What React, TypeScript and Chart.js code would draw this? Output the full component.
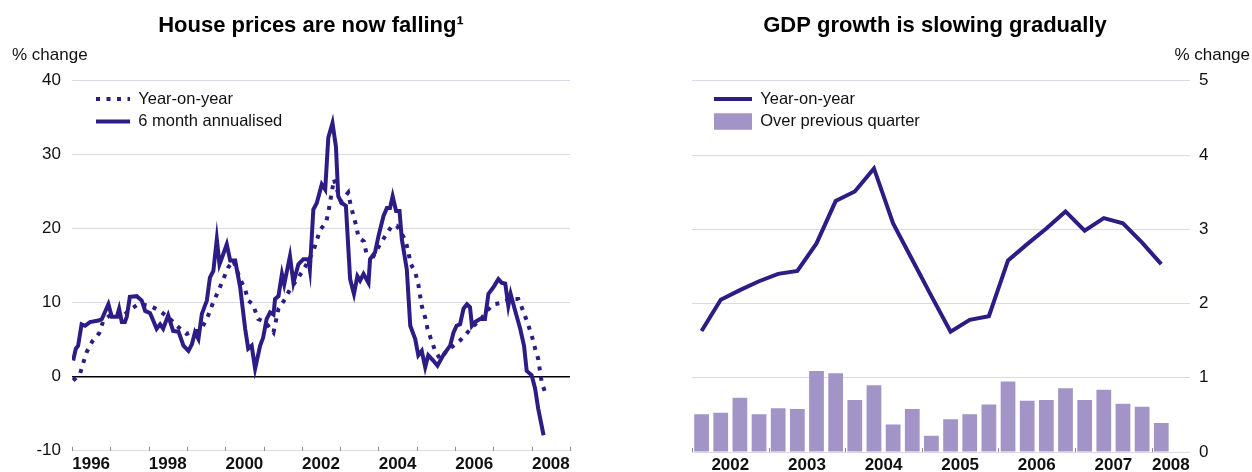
import React, { useEffect, useRef } from 'react';
import { Chart, registerables } from 'chart.js';

Chart.register(...registerables);

const FONT = "'Liberation Sans', Arial, Helvetica, sans-serif";
Chart.defaults.font.family = FONT;

const NAVY = '#2d1c86';
const BAR = '#a294c7';
const GRID = '#dcd8ee';
const TEXT = '#111111';

// ---------- House prices (left) ----------
const hpTickYears = [1996, 1998, 2000, 2002, 2004, 2006, 2008];

const hpYoYDates = [
  1996.03, 1996.21, 1996.30, 1996.38, 1996.53, 1996.71, 1996.82, 1997.04, 1997.30, 1997.47,
  1997.73, 1998.04, 1998.30, 1998.56, 1998.78, 1998.99, 1999.17, 1999.34, 1999.52, 1999.65,
  1999.82, 1999.95, 2000.08, 2000.21, 2000.39, 2000.52, 2000.60, 2000.72, 2000.86, 2001.04,
  2001.26, 2001.39, 2001.56, 2001.69, 2001.91, 2002.08, 2002.30, 2002.48, 2002.63, 2002.69,
  2002.74, 2002.84, 2002.89, 2003.02, 2003.13, 2003.21, 2003.27, 2003.34, 2003.42, 2003.48,
  2003.62, 2003.68, 2003.87, 2004.04, 2004.20, 2004.35, 2004.48, 2004.69, 2004.78, 2004.83,
  2004.96, 2005.04, 2005.13, 2005.22, 2005.28, 2005.37, 2005.48, 2005.61, 2005.78, 2005.96,
  2006.09, 2006.26, 2006.44, 2006.65, 2006.83, 2007.00, 2007.22, 2007.44, 2007.65, 2007.74,
  2007.87, 2008.00, 2008.09, 2008.17, 2008.26, 2008.35,
];
const hpYoY = [
  -0.5, 0.4, 2.0, 3.3, 4.8, 5.9, 7.6, 8.5, 8.0, 8.9,
  9.8, 9.6, 8.9, 7.8, 6.7, 5.8, 6.2, 6.2, 7.8, 9.6,
  11.6, 13.2, 14.8, 15.7, 13.2, 11.8, 10.3, 9.8, 7.8, 7.4,
  6.0, 9.2, 10.5, 11.8, 13.4, 14.8, 17.0, 19.9, 20.8, 22.2,
  23.7, 26.7, 25.7, 23.7, 24.4, 24.9, 23.3, 21.9, 20.4, 18.8,
  18.3, 16.8, 16.3, 17.9, 19.2, 20.4, 20.4, 18.6, 17.0, 15.4,
  14.1, 12.5, 9.6, 8.0, 6.5, 5.1, 3.5, 2.4, 3.5, 4.2,
  4.7, 5.6, 6.7, 7.6, 8.9, 9.8, 10.0, 10.5, 10.5, 9.4,
  7.6, 5.6, 3.8, 2.4, -0.7, -2.1,
];

const hp6mDates = [
  1996.03, 1996.10, 1996.16, 1996.25, 1996.34, 1996.47, 1996.69, 1996.78, 1996.95, 1997.04,
  1997.17, 1997.23, 1997.30, 1997.38, 1997.43, 1997.51, 1997.69, 1997.82, 1997.91, 1998.04,
  1998.21, 1998.30, 1998.38, 1998.51, 1998.64, 1998.78, 1998.91, 1999.04, 1999.13, 1999.21,
  1999.30, 1999.39, 1999.52, 1999.60, 1999.69, 1999.78, 1999.85, 1999.95, 2000.04, 2000.13,
  2000.26, 2000.39, 2000.52, 2000.60, 2000.69, 2000.78, 2000.91, 2000.99, 2001.08, 2001.17,
  2001.26, 2001.30, 2001.39, 2001.48, 2001.54, 2001.69, 2001.78, 2001.91, 2002.04, 2002.17,
  2002.21, 2002.30, 2002.39, 2002.52, 2002.61, 2002.69, 2002.80, 2002.89, 2002.95, 2003.04,
  2003.15, 2003.26, 2003.36, 2003.45, 2003.52, 2003.61, 2003.74, 2003.78, 2003.91, 2004.00,
  2004.13, 2004.22, 2004.30, 2004.37, 2004.46, 2004.55, 2004.61, 2004.74, 2004.83, 2004.96,
  2005.04, 2005.13, 2005.22, 2005.30, 2005.43, 2005.54, 2005.69, 2005.87, 2005.96, 2006.04,
  2006.13, 2006.22, 2006.31, 2006.39, 2006.44, 2006.52, 2006.65, 2006.78, 2006.87, 2007.00,
  2007.13, 2007.22, 2007.31, 2007.39, 2007.45, 2007.57, 2007.70, 2007.80, 2007.87, 2008.00,
  2008.09, 2008.17, 2008.31,
];
const hp6m = [
  2.2, 3.8, 4.2, 7.1, 6.9, 7.4, 7.6, 7.8, 9.8, 8.1,
  8.1, 9.2, 7.4, 7.4, 8.1, 10.8, 10.9, 10.3, 8.9, 8.6,
  6.5, 7.1, 6.5, 8.3, 6.2, 6.1, 4.2, 3.5, 4.4, 6.0,
  5.1, 8.5, 10.3, 13.4, 14.3, 18.6, 15.2, 16.6, 17.9, 15.7,
  15.7, 12.1, 6.5, 3.8, 4.2, 1.1, 4.2, 5.3, 7.8, 8.7,
  8.4, 10.5, 10.9, 13.9, 12.5, 16.3, 12.7, 15.2, 15.9, 15.9,
  14.5, 22.6, 23.5, 26.0, 25.3, 32.3, 34.3, 31.1, 24.4, 23.5,
  23.1, 13.2, 11.2, 13.6, 13.0, 13.9, 12.7, 15.9, 16.8, 19.0,
  21.7, 22.8, 22.8, 24.4, 22.4, 22.4, 18.6, 14.5, 6.9, 5.1,
  2.9, 3.5, 1.3, 2.9, 2.2, 1.5, 2.9, 4.2, 6.0, 6.9,
  7.1, 9.2, 9.8, 9.4, 6.9, 7.4, 7.8, 7.8, 11.2, 12.1,
  13.2, 12.7, 12.6, 9.6, 11.2, 8.9, 6.5, 4.2, 0.8, 0.2,
  -1.6, -4.3, -7.9,
];

// ---------- GDP (right) ----------
const gdpTickYears = [2002, 2003, 2004, 2005, 2006, 2007, 2008];
const gdpQuarters = [
  '2002 Q1', '2002 Q2', '2002 Q3', '2002 Q4',
  '2003 Q1', '2003 Q2', '2003 Q3', '2003 Q4',
  '2004 Q1', '2004 Q2', '2004 Q3', '2004 Q4',
  '2005 Q1', '2005 Q2', '2005 Q3', '2005 Q4',
  '2006 Q1', '2006 Q2', '2006 Q3', '2006 Q4',
  '2007 Q1', '2007 Q2', '2007 Q3', '2007 Q4',
  '2008 Q1',
];
const gdpYoY = [
  1.63, 2.05, 2.18, 2.30, 2.40, 2.44, 2.81, 3.38, 3.51, 3.82,
  3.08, 2.59, 2.10, 1.62, 1.78, 1.83, 2.58, 2.80, 3.01, 3.24,
  2.98, 3.15, 3.08, 2.82, 2.53,
];
const gdpQoQ = [
  0.51, 0.53, 0.73, 0.51, 0.59, 0.58, 1.09, 1.06, 0.70, 0.90,
  0.37, 0.58, 0.22, 0.44, 0.51, 0.64, 0.95, 0.69, 0.70, 0.86,
  0.70, 0.84, 0.65, 0.61, 0.39,
];

const quarterPos = (q: string) => {
  const [y, qq] = q.split(' Q');
  return Number(y) + (Number(qq) - 0.5) / 4;
};

// ---------- plugins ----------
const yearTicksPlugin = {
  id: 'yearTicks',
  afterDatasetsDraw(chart: any) {
    const x = chart.scales.x;
    const { bottom } = chart.chartArea;
    const ctx = chart.ctx;
    ctx.save();
    ctx.strokeStyle = '#8c8c8c';
    ctx.lineWidth = 1;
    for (let yr = Math.ceil(x.min); yr <= Math.floor(x.max); yr++) {
      const px = Math.round(x.getPixelForValue(yr)) + 0.5;
      ctx.beginPath();
      ctx.moveTo(px, bottom);
      ctx.lineTo(px, bottom - 4);
      ctx.stroke();
    }
    ctx.restore();
  },
};

const legendShift = {
  id: 'legendShift',
  afterLayout(chart: any, _args: any, opts: any) {
    const lg = chart.legend;
    const ca = chart.chartArea;
    if (!lg || !ca) return;
    lg.left = ca.left + (opts.dx || 0);
    lg.top = ca.top + (opts.dy || 0);
    lg.right = ca.right;
    lg.bottom = ca.bottom;
  },
};

const makeLabels = (chart: any) => {
  const items = (Chart.defaults.plugins.legend.labels as any).generateLabels(chart);
  return items.map((it: any) => {
    const ds = chart.data.datasets[it.datasetIndex];
    const isBar = ds.type === 'bar';
    return {
      ...it,
      pointStyle: isBar ? 'rect' : 'line',
      lineDash: isBar ? [] : ds.borderDash || [],
      lineCap: 'butt',
      lineWidth: isBar ? 0 : ds.borderWidth,
      textAlign: 'left',
    };
  });
};

const titleOpts = (text: string) => ({
  display: true,
  text,
  color: '#000',
  font: { family: FONT, size: 22, weight: 'bold' as const },
  padding: { top: 13, bottom: 4 },
});

const subtitleOpts = (align: 'start' | 'end') => ({
  display: true,
  text: '% change',
  align,
  color: TEXT,
  font: { family: FONT, size: 17 },
  padding: { top: 2, bottom: 15 },
});

const legendOpts = (width: number) => ({
  display: true,
  position: 'chartArea' as any,
  align: 'start' as const,
  labels: {
    usePointStyle: true,
    pointStyleWidth: width,
    boxHeight: 17,
    padding: 6,
    color: TEXT,
    textAlign: 'left' as const,
    font: { family: FONT, size: 16.5 },
    generateLabels: makeLabels,
  },
});

const xTickFont = { family: FONT, size: 17, weight: 'bold' as const };
const yTickFont = { family: FONT, size: 17 };

const hiddenAxis = (position: 'left' | 'right', width: number) => ({
  type: 'linear' as const,
  axis: 'y' as const,
  position,
  display: true,
  grid: { display: false, drawTicks: false },
  border: { display: false },
  ticks: { display: false },
  afterFit: (s: any) => {
    s.width = width;
  },
});

function makeHousePrices(canvas: HTMLCanvasElement) {
  return new Chart(canvas, {
    type: 'line',
    data: {
      datasets: [
        {
          label: 'Year-on-year',
          data: hpYoYDates.map((d, i) => ({ x: d, y: hpYoY[i] })),
          borderColor: NAVY,
          backgroundColor: NAVY,
          borderWidth: 4,
          borderDash: [4, 6.5],
          borderCapStyle: 'butt',
          pointRadius: 0,
          pointHoverRadius: 0,
          pointStyle: 'line',
          tension: 0,
          yAxisID: 'y',
        },
        {
          label: '6 month annualised',
          data: hp6mDates.map((d, i) => ({ x: d, y: hp6m[i] })),
          borderColor: NAVY,
          backgroundColor: NAVY,
          borderWidth: 4,
          pointRadius: 0,
          pointHoverRadius: 0,
          pointStyle: 'line',
          tension: 0,
          yAxisID: 'y',
        },
      ],
    },
    options: {
      animation: false,
      responsive: false,
      events: [],
      layout: { padding: { left: 12, right: 0, top: 0, bottom: 0 } },
      plugins: {
        title: titleOpts('House prices are now falling¹'),
        subtitle: subtitleOpts('start'),
        legend: legendOpts(34),
        tooltip: { enabled: false },
        legendShift: { dx: 18, dy: 4 },
      } as any,
      scales: {
        x: {
          type: 'linear',
          min: 1996,
          max: 2009,
          grid: { display: false, drawTicks: false },
          border: { display: false },
          afterBuildTicks: (s: any) => {
            s.ticks = hpTickYears.map((y) => ({ value: y + 0.5 }));
          },
          ticks: {
            autoSkip: false,
            maxRotation: 0,
            padding: 3,
            color: TEXT,
            font: xTickFont,
            callback: (v: any) => String(Math.floor(Number(v))),
          },
          afterFit: (s: any) => {
            s.height = 20;
          },
        },
        y: {
          type: 'linear',
          position: 'left',
          min: -10,
          max: 40,
          ticks: { stepSize: 10, padding: 11, color: TEXT, font: yTickFont },
          grid: {
            drawTicks: false,
            color: (c: any) => (c.tick && c.tick.value === 0 ? '#000000' : GRID),
            lineWidth: (c: any) => (c.tick && c.tick.value === 0 ? 1.5 : 1),
          },
          border: { display: false },
          afterFit: (s: any) => {
            s.width = 60;
          },
        },
        yR: hiddenAxis('right', 40),
      } as any,
    },
    plugins: [yearTicksPlugin, legendShift],
  });
}

function makeGdp(canvas: HTMLCanvasElement) {
  const pos = gdpQuarters.map(quarterPos);
  return new Chart(canvas, {
    type: 'bar',
    data: {
      datasets: [
        {
          type: 'line',
          label: 'Year-on-year',
          data: pos.map((p, i) => ({ x: p, y: gdpYoY[i] })),
          borderColor: NAVY,
          backgroundColor: NAVY,
          borderWidth: 4,
          pointRadius: 0,
          pointHoverRadius: 0,
          pointStyle: 'line',
          tension: 0,
          yAxisID: 'y',
          order: 0,
        },
        {
          type: 'bar',
          label: 'Over previous quarter',
          data: pos.map((p, i) => ({ x: p, y: gdpQoQ[i] })),
          backgroundColor: BAR,
          borderColor: BAR,
          borderWidth: 0,
          barPercentage: 0.77,
          categoryPercentage: 1,
          yAxisID: 'y',
          order: 1,
        },
      ] as any,
    },
    options: {
      animation: false,
      responsive: false,
      events: [],
      layout: { padding: 0 },
      plugins: {
        title: titleOpts('GDP growth is slowing gradually'),
        subtitle: subtitleOpts('end'),
        legend: legendOpts(38),
        tooltip: { enabled: false },
        legendShift: { dx: 16, dy: 4 },
      } as any,
      scales: {
        x: {
          type: 'linear',
          min: 2002,
          max: 2008.5,
          offset: false,
          grid: { display: false, drawTicks: false },
          border: { display: false },
          afterBuildTicks: (s: any) => {
            s.ticks = gdpTickYears.map((y) => ({ value: (y + Math.min(y + 1, s.max)) / 2 }));
          },
          ticks: {
            autoSkip: false,
            maxRotation: 0,
            padding: 3,
            color: TEXT,
            font: xTickFont,
            callback: (v: any) => String(Math.floor(Number(v))),
          },
          afterFit: (s: any) => {
            s.height = 20;
          },
        },
        y: {
          type: 'linear',
          position: 'right',
          min: 0,
          max: 5,
          ticks: { stepSize: 1, padding: 9, color: TEXT, font: yTickFont },
          grid: { drawTicks: false, color: GRID, lineWidth: 1 },
          border: { display: false },
          afterFit: (s: any) => {
            s.width = 60;
          },
        },
        yL: hiddenAxis('left', 72),
      } as any,
    },
    plugins: [yearTicksPlugin, legendShift],
  });
}

function ChartCanvas(props: {
  make: (c: HTMLCanvasElement) => Chart;
  left: number;
  width: number;
  height: number;
}) {
  const ref = useRef<HTMLCanvasElement>(null);
  useEffect(() => {
    if (!ref.current) return;
    const chart = props.make(ref.current);
    return () => chart.destroy();
  }, []);
  return (
    <canvas
      ref={ref}
      width={props.width}
      height={props.height}
      style={{
        position: 'absolute',
        left: props.left,
        top: 0,
        width: props.width,
        height: props.height,
        display: 'block',
      }}
    />
  );
}

export default function App() {
  return (
    <div
      style={{
        position: 'fixed',
        left: 0,
        top: 0,
        width: 1252,
        height: 472,
        background: '#ffffff',
        overflow: 'hidden',
      }}
    >
      <ChartCanvas make={makeHousePrices} left={0} width={610} height={472} />
      <ChartCanvas make={makeGdp} left={620} width={630} height={472} />
    </div>
  );
}
